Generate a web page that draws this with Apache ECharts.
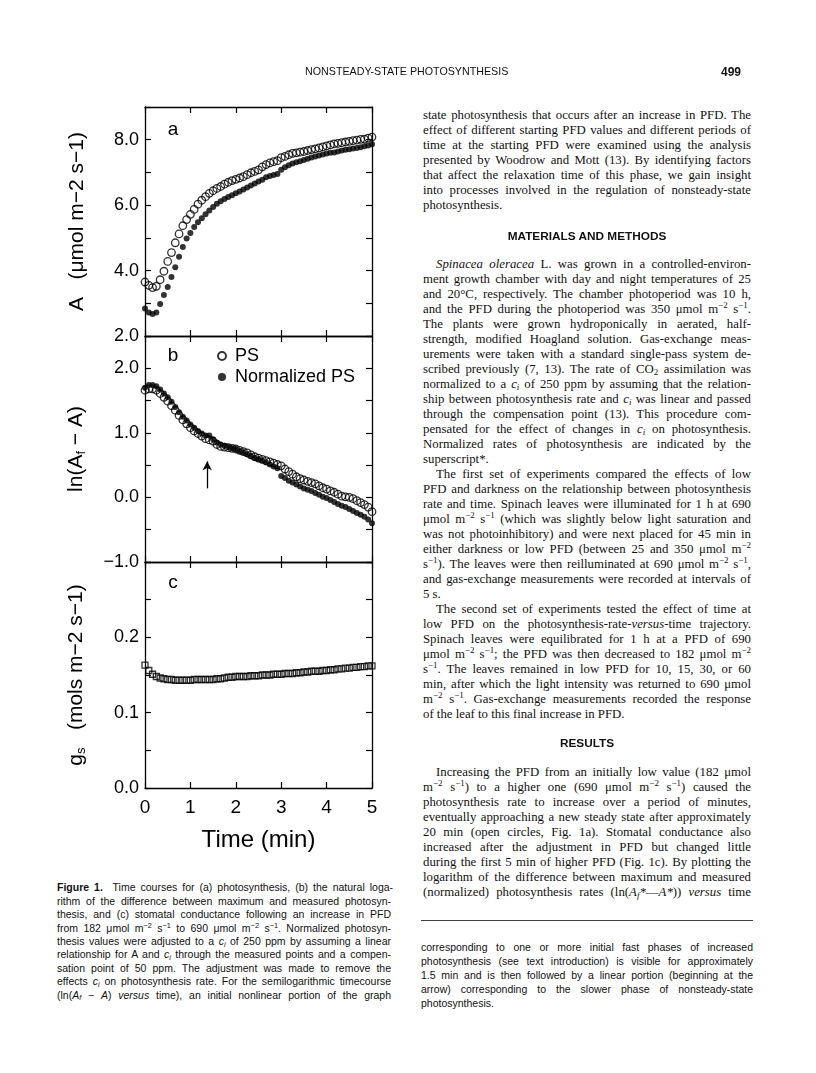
<!DOCTYPE html>
<html>
<head>
<meta charset="utf-8">
<script src="https://cdn.jsdelivr.net/npm/echarts@6/dist/echarts.min.js"></script>
<style>
html, body { margin: 0; padding: 0; background: #fff; }
body { width: 816px; height: 1073px; position: relative; overflow: hidden; color: #111; }
#chart { position: absolute; left: 0; top: 0; width: 400px; height: 880px; }
.ln { position: absolute; white-space: nowrap; z-index: 2; }
.serif { font-family: 'Liberation Serif', 'Times New Roman', serif; font-size: 12.8px; }
.sans { font-family: 'Liberation Sans', Arial, sans-serif; font-size: 10.5px; }
.ln sup, .ln sub { font-size: 70%; line-height: 0; vertical-align: baseline; position: relative; }
.ln sup { top: -0.45em; }
.ln sub { top: 0.25em; }
.head { position: absolute; z-index: 2; font-family: 'Liberation Sans', Arial, sans-serif; white-space: nowrap; }
.rule { position: absolute; left: 421px; top: 920px; width: 332px; height: 0; border-top: 1px solid #444; }
</style>
</head>
<body>
<div id="chart"></div>
<div class="head" style="left:305px; top:65px; font-size:10.7px;">NONSTEADY-STATE PHOTOSYNTHESIS</div>
<div class="head" style="left:721px; top:65px; font-size:12px; font-weight:bold;">499</div>
<div class="head" style="left:0; width:1174px; top:229px; font-size:11.8px; font-weight:bold; text-align:center;">MATERIALS AND METHODS</div>
<div class="head" style="left:0; width:1174px; top:736px; font-size:11.8px; font-weight:bold; text-align:center;">RESULTS</div>
<div class="rule"></div>

<script>
// sampling times (s) and readings
var seconds = [0, 5, 10, 15, 20, 25, 30, 35, 40, 45, 50, 55, 60, 65, 70, 75, 80, 85, 90, 95,
    100, 105, 110, 115, 120, 125, 130, 135, 140, 145, 150, 155, 160, 165, 170, 175, 180, 185, 190, 195,
    200, 205, 210, 215, 220, 225, 230, 235, 240, 245, 250, 255, 260, 265, 270, 275, 280, 285, 290, 295, 300];

// (a) A, umol m-2 s-1
var psA = [3.65, 3.55, 3.48, 3.52, 3.72, 3.98, 4.28, 4.55, 4.85, 5.12,
    5.37, 5.56, 5.72, 5.87, 6.03, 6.15, 6.26, 6.36, 6.44, 6.51,
    6.57, 6.64, 6.70, 6.75, 6.79, 6.83, 6.87, 6.93, 6.99, 7.03,
    7.08, 7.17, 7.24, 7.29, 7.33, 7.36, 7.45, 7.49, 7.54, 7.58,
    7.60, 7.62, 7.64, 7.67, 7.70, 7.72, 7.75, 7.78, 7.81, 7.84,
    7.87, 7.89, 7.91, 7.93, 7.95, 7.97, 7.99, 8.01, 8.02, 8.05, 8.08];
var normA = [2.84, 2.72, 2.67, 2.72, 2.98, 3.25, 3.50, 3.80, 4.10, 4.42,
    4.72, 4.98, 5.15, 5.33, 5.48, 5.60, 5.72, 5.84, 5.94, 6.04,
    6.12, 6.19, 6.25, 6.30, 6.36, 6.42, 6.48, 6.54, 6.60, 6.66,
    6.72, 6.78, 6.85, 6.89, 6.92, 6.95, 7.08, 7.16, 7.22, 7.27,
    7.31, 7.34, 7.38, 7.42, 7.46, 7.49, 7.52, 7.55, 7.58, 7.60,
    7.61, 7.64, 7.67, 7.69, 7.71, 7.73, 7.75, 7.77, 7.80, 7.82, 7.86];

// (b) ln(Af - A)
var psLn = [1.66, 1.68, 1.68, 1.66, 1.61, 1.55, 1.49, 1.42, 1.35, 1.27,
    1.20, 1.14, 1.08, 1.03, 0.99, 0.95, 0.91, 0.89, 0.87, 0.82,
    0.79, 0.78, 0.77, 0.76, 0.75, 0.73, 0.71, 0.69, 0.66, 0.63,
    0.61, 0.59, 0.57, 0.55, 0.53, 0.51, 0.49, 0.44, 0.40, 0.36,
    0.32, 0.29, 0.27, 0.25, 0.23, 0.21, 0.18, 0.15, 0.13, 0.10,
    0.08, 0.05, 0.02, 0.01, 0.00, -0.02, -0.05, -0.08, -0.11, -0.15, -0.22];
var normLn = [1.70, 1.74, 1.74, 1.72, 1.67, 1.61, 1.55, 1.48, 1.40, 1.32,
    1.25, 1.19, 1.13, 1.08, 1.03, 0.99, 0.96, 0.96, 0.90, 0.85,
    0.82, 0.80, 0.78, 0.76, 0.75, 0.72, 0.70, 0.67, 0.64, 0.61,
    0.59, 0.57, 0.54, 0.51, 0.48, 0.45, 0.33, 0.30, 0.26, 0.23,
    0.20, 0.17, 0.14, 0.12, 0.10, 0.07, 0.04, 0.01, -0.01, -0.04,
    -0.07, -0.10, -0.13, -0.15, -0.18, -0.21, -0.24, -0.27, -0.30, -0.34, -0.40];

// (c) gs, mols m-2 s-1
var gsVals = [0.163, 0.156, 0.151, 0.148, 0.146, 0.145, 0.144, 0.144, 0.143, 0.143,
    0.143, 0.143, 0.143, 0.144, 0.144, 0.144, 0.144, 0.144, 0.144, 0.145,
    0.145, 0.146, 0.147, 0.147, 0.148, 0.148, 0.148, 0.148, 0.149, 0.149,
    0.149, 0.150, 0.150, 0.150, 0.151, 0.151, 0.151, 0.152, 0.152, 0.152,
    0.153, 0.153, 0.154, 0.154, 0.155, 0.155, 0.155, 0.156, 0.156, 0.157,
    0.157, 0.158, 0.158, 0.159, 0.159, 0.160, 0.160, 0.161, 0.161, 0.162, 0.162];

// arrow in panel b (time, ln value): tail, head
var arrowAt = [[1.37, 0.14], [1.37, 0.56]];
var panelTags = ['a', 'b', 'c'];

var FONT = "'Liberation Sans', Arial, sans-serif";

function pair (vals) {
    return seconds.map(function (s, i) {
        return [s / 60, vals[i]];
    });
}

var grids = [
    {left: 145, width: 227, top: 107, height: 229},
    {left: 145, width: 227, top: 336, height: 226},
    {left: 145, width: 227, top: 562, height: 226}
];

var yRanges = [
    {min: 2, max: 9, interval: 1},
    {min: -1, max: 2.5, interval: 0.5},
    {min: 0, max: 0.3, interval: 0.05}
];

var yFormat = [
    function (v) { return Math.round(v) % 2 === 0 ? v.toFixed(1) : ''; },
    function (v) {
        if (Math.abs(v - Math.round(v)) > 1e-6) return '';
        return (v < 0 ? '\u2212' : '') + Math.abs(v).toFixed(1);
    },
    function (v) {
        var k = Math.round(v * 100);
        return (k % 10 === 0 && k < 30) ? (k / 100).toFixed(1) : '';
    }
];

var yNames = [
    'A   (\u03bcmol m\u22122 s\u22121)',
    '{n|ln(A}{s|f}{n| \u2212 A)}',
    '{n|g}{s|s}{n|   (mols m\u22122 s\u22121)}'
];

var lineStyle = {color: '#000', width: 1.3};
var tickStyle = {inside: true, length: 6, lineStyle: {color: '#000', width: 1.2}};

var xAxes = [];
var yAxes = [];
grids.forEach(function (g, i) {
    var last = i === grids.length - 1;
    // bottom + mirrored top
    xAxes.push({
        gridIndex: i, type: 'value', min: 0, max: 5, interval: 1, position: 'bottom',
        axisLine: {show: true, onZero: false, lineStyle: lineStyle},
        axisTick: tickStyle,
        splitLine: {show: false},
        axisLabel: {show: last, color: '#000', fontSize: 19, fontFamily: FONT, margin: 10},
        name: last ? 'Time (min)' : '',
        nameLocation: 'middle', nameGap: 40,
        nameTextStyle: {color: '#000', fontSize: 24, fontFamily: FONT}
    });
    xAxes.push({
        gridIndex: i, type: 'value', min: 0, max: 5, interval: 1, position: 'top',
        axisLine: {show: true, onZero: false, lineStyle: lineStyle},
        axisTick: tickStyle,
        splitLine: {show: false},
        axisLabel: {show: false}
    });
    // left + mirrored right
    yAxes.push({
        gridIndex: i, type: 'value', position: 'left',
        min: yRanges[i].min, max: yRanges[i].max, interval: yRanges[i].interval,
        axisLine: {show: true, onZero: false, lineStyle: lineStyle},
        axisTick: tickStyle,
        splitLine: {show: false},
        axisLabel: {color: '#000', fontSize: 18, fontFamily: FONT, margin: 6, formatter: yFormat[i]},
        name: yNames[i], nameLocation: 'middle', nameRotate: 90, nameGap: 57,
        nameTextStyle: {
            color: '#000', fontSize: 21, fontFamily: FONT,
            rich: {
                n: {fontSize: 21, fontFamily: FONT, color: '#000', lineHeight: 24, verticalAlign: 'middle'},
                s: {fontSize: 13, fontFamily: FONT, color: '#000', lineHeight: 13, verticalAlign: 'bottom'}
            }
        }
    });
    yAxes.push({
        gridIndex: i, type: 'value', position: 'right',
        min: yRanges[i].min, max: yRanges[i].max, interval: yRanges[i].interval,
        axisLine: {show: true, onZero: false, lineStyle: lineStyle},
        axisTick: tickStyle,
        splitLine: {show: false},
        axisLabel: {show: false}
    });
});

var openStyle = {color: 'rgba(255,255,255,0)', borderColor: '#000', borderWidth: 1.3};
var fillStyle = {color: '#000'};

var series = [
    {name: 'Normalized PS', type: 'scatter', xAxisIndex: 0, yAxisIndex: 0, data: pair(normA),
        symbol: 'circle', symbolSize: 6, itemStyle: fillStyle},
    {name: 'PS', type: 'scatter', xAxisIndex: 0, yAxisIndex: 0, data: pair(psA),
        symbol: 'circle', symbolSize: 7.5, itemStyle: openStyle},
    {name: 'Normalized PS', type: 'scatter', xAxisIndex: 2, yAxisIndex: 2, data: pair(normLn),
        symbol: 'circle', symbolSize: 6, itemStyle: fillStyle,
        markLine: {
            silent: true, animation: false,
            symbol: ['none', 'arrow'], symbolSize: [7, 9],
            label: {show: false},
            lineStyle: {color: '#000', width: 1.3, type: 'solid'},
            data: [[{coord: arrowAt[0]}, {coord: arrowAt[1]}]]
        }},
    {name: 'PS', type: 'scatter', xAxisIndex: 2, yAxisIndex: 2, data: pair(psLn),
        symbol: 'circle', symbolSize: 7.5, itemStyle: openStyle},
    {name: 'gs', type: 'scatter', xAxisIndex: 4, yAxisIndex: 4, data: pair(gsVals),
        symbol: 'rect', symbolSize: 6, itemStyle: openStyle}
];

var chart = echarts.init(document.getElementById('chart'));
chart.setOption({
    animation: false,
    textStyle: {fontFamily: FONT, color: '#000'},
    grid: grids.map(function (g) {
        return Object.assign({outerBoundsMode: 'none', containLabel: false}, g);
    }),
    xAxis: xAxes,
    yAxis: yAxes,
    legend: {
        data: ['PS', 'Normalized PS'],
        orient: 'vertical', left: 212, top: 342,
        itemWidth: 16, itemHeight: 8, itemGap: 3,
        selectedMode: false,
        textStyle: {color: '#000', fontSize: 18, fontFamily: FONT}
    },
    graphic: panelTags.map(function (t, i) {
        return {
            type: 'text', x: 173, y: grids[i].top + [23, 20, 21][i],
            style: {text: t, font: '19px ' + FONT, fill: '#000', align: 'center', verticalAlign: 'middle'}
        };
    }),
    series: series
});

// ---------- page text ----------
function justify (d, w) {
    var s = d.firstChild;
    var nat = s.getBoundingClientRect().width;
    var gaps = (s.textContent.match(/ /g) || []).length;
    if (nat > w) {
        s.style.letterSpacing = ((w - nat) / s.textContent.length) + 'px';
        nat = s.getBoundingClientRect().width;
    }
    if (gaps && nat < w) s.style.wordSpacing = ((w - nat) / gaps) + 'px';
}

function place (lines, x, w, y0, lh, cls, indent, lastLeft) {
    lines.forEach(function (html, k) {
        var ind = (indent && k === 0) ? 13 : 0;
        var d = document.createElement('div');
        d.className = 'ln ' + cls;
        d.style.left = (x + ind) + 'px';
        d.style.top = (y0 + k * lh - lh / 2) + 'px';
        d.style.lineHeight = lh + 'px';
        d.innerHTML = '<span>' + html + '</span>';
        document.body.appendChild(d);
        if (!(lastLeft && k === lines.length - 1)) justify(d, w - ind);
    });
}

var M2 = 'm<sup>\u22122</sup>', S1 = 's<sup>\u22121</sup>', CI = '<i>c<sub>i</sub></i>';

var para1 = [
    'state photosynthesis that occurs after an increase in PFD. The',
    'effect of different starting PFD values and different periods of',
    'time at the starting PFD were examined using the analysis',
    'presented by Woodrow and Mott (13). By identifying factors',
    'that affect the relaxation time of this phase, we gain insight',
    'into processes involved in the regulation of nonsteady-state',
    'photosynthesis.'
];
var para2 = [
    '<i>Spinacea oleracea</i> L. was grown in a controlled-environ-',
    'ment growth chamber with day and night temperatures of 25',
    'and 20\u00b0C, respectively. The chamber photoperiod was 10 h,',
    'and the PFD during the photoperiod was 350 \u03bcmol ' + M2 + ' ' + S1 + '.',
    'The plants were grown hydroponically in aerated, half-',
    'strength, modified Hoagland solution. Gas-exchange meas-',
    'urements were taken with a standard single-pass system de-',
    'scribed previously (7, 13). The rate of CO<sub>2</sub> assimilation was',
    'normalized to a ' + CI + ' of 250 ppm by assuming that the relation-',
    'ship between photosynthesis rate and ' + CI + ' was linear and passed',
    'through the compensation point (13). This procedure com-',
    'pensated for the effect of changes in ' + CI + ' on photosynthesis.',
    'Normalized rates of photosynthesis are indicated by the',
    'superscript*.'
];
var para3 = [
    'The first set of experiments compared the effects of low',
    'PFD and darkness on the relationship between photosynthesis',
    'rate and time. Spinach leaves were illuminated for 1 h at 690',
    '\u03bcmol ' + M2 + ' ' + S1 + ' (which was slightly below light saturation and',
    'was not photoinhibitory) and were next placed for 45 min in',
    'either darkness or low PFD (between 25 and 350 \u03bcmol ' + M2,
    S1 + '). The leaves were then reilluminated at 690 \u03bcmol ' + M2 + ' ' + S1 + ',',
    'and gas-exchange measurements were recorded at intervals of',
    '5 s.'
];
var para4 = [
    'The second set of experiments tested the effect of time at',
    'low PFD on the photosynthesis-rate-<i>versus</i>-time trajectory.',
    'Spinach leaves were equilibrated for 1 h at a PFD of 690',
    '\u03bcmol ' + M2 + ' ' + S1 + '; the PFD was then decreased to 182 \u03bcmol ' + M2,
    S1 + '. The leaves remained in low PFD for 10, 15, 30, or 60',
    'min, after which the light intensity was returned to 690 \u03bcmol',
    M2 + ' ' + S1 + '. Gas-exchange measurements recorded the response',
    'of the leaf to this final increase in PFD.'
];
var para5 = [
    'Increasing the PFD from an initially low value (182 \u03bcmol',
    M2 + ' ' + S1 + ') to a higher one (690 \u03bcmol ' + M2 + ' ' + S1 + ') caused the',
    'photosynthesis rate to increase over a period of minutes,',
    'eventually approaching a new steady state after approximately',
    '20 min (open circles, Fig. 1a). Stomatal conductance also',
    'increased after the adjustment in PFD but changed little',
    'during the first 5 min of higher PFD (Fig. 1c). By plotting the',
    'logarithm of the difference between maximum and measured',
    '(normalized) photosynthesis rates (ln(<i>A<sub>f</sub>*</i>\u2014<i>A*</i>)) <i>versus</i> time'
];
var capLeft = [
    '<b>Figure 1.</b>\u00a0 Time courses for (a) photosynthesis, (b) the natural loga-',
    'rithm of the difference between maximum and measured photosyn-',
    'thesis, and (c) stomatal conductance following an increase in PFD',
    'from 182 \u03bcmol ' + M2 + ' ' + S1 + ' to 690 \u03bcmol ' + M2 + ' ' + S1 + '. Normalized photosyn-',
    'thesis values were adjusted to a ' + CI + ' of 250 ppm by assuming a linear',
    'relationship for A and ' + CI + ' through the measured points and a compen-',
    'sation point of 50 ppm. The adjustment was made to remove the',
    'effects ' + CI + ' on photosynthesis rate. For the semilogarithmic timecourse',
    '(ln(<i>A<sub>f</sub></i> \u2212 <i>A</i>) <i>versus</i> time), an initial nonlinear portion of the graph'
];
var capRight = [
    'corresponding to one or more initial fast phases of increased',
    'photosynthesis (see text introduction) is visible for approximately',
    '1.5 min and is then followed by a linear portion (beginning at the',
    'arrow) corresponding to the slower phase of nonsteady-state',
    'photosynthesis.'
];

var colX = 423, colW = 328, lh = 15;
place(para1, colX, colW, 115, lh, 'serif', false, true);
place(para2, colX, colW, 264, lh, 'serif', true, true);
place(para3, colX, colW, 264 + 14 * lh, lh, 'serif', true, true);
place(para4, colX, colW, 264 + 23 * lh, lh, 'serif', true, true);
place(para5, colX, colW, 772, lh, 'serif', true, false);
place(capLeft, 57, 334, 888, 13.4, 'sans', false, false);
place(capRight, 421, 332, 947, 14, 'sans', false, true);
</script>
</body>
</html>
